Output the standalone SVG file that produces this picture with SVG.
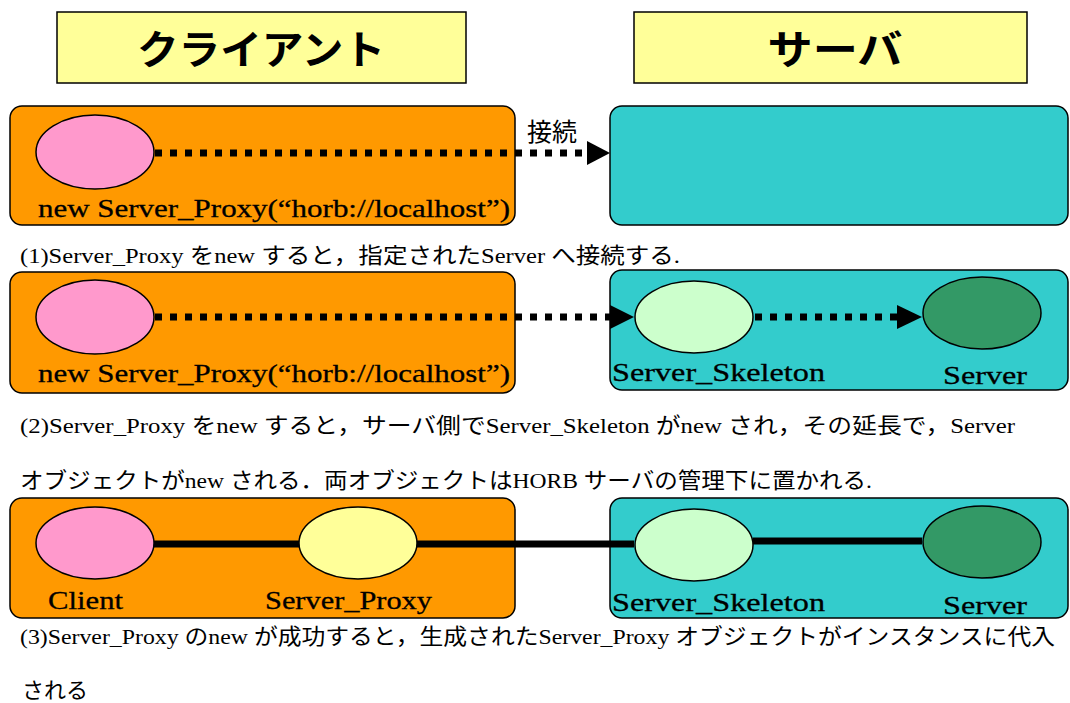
<svg xmlns="http://www.w3.org/2000/svg" width="1070" height="703" viewBox="0 0 1070 703">
<style>
.hdr{fill:#FFFF99;stroke:#000;stroke-width:1.5}
.hdrt{font-family:"Noto Sans CJK JP","Noto Sans",sans-serif;font-weight:bold;font-size:40px;text-anchor:middle}
.cli{fill:#FF9900;stroke:#000;stroke-width:1.5}
.srv{fill:#33CCCC;stroke:#000;stroke-width:1.5}
.pink{fill:#FF99CC;stroke:#000;stroke-width:1.5}
.yel{fill:#FFFF99;stroke:#000;stroke-width:1.5}
.lg{fill:#CCFFCC;stroke:#000;stroke-width:1.5}
.dg{fill:#339966;stroke:#000;stroke-width:1.5}
.lbl{font-family:"Liberation Serif","Times New Roman",serif;font-size:26px;fill:#000;stroke:#000;stroke-width:0.3}
.cap{font-family:"Liberation Serif","Noto Sans CJK JP",serif;font-size:22px;fill:#000}
.dot{stroke:#000;stroke-width:7;stroke-dasharray:7 8;fill:none}
.sol{stroke:#000;stroke-width:7;fill:none}
</style>
<g id="header-client"><rect class="hdr" x="57" y="12" width="409" height="71"/><text class="hdrt" x="261" y="64" textLength="248" lengthAdjust="spacingAndGlyphs">クライアント</text></g>
<g id="header-server"><rect class="hdr" x="634" y="12" width="393" height="71"/><text class="hdrt" x="835" y="64" textLength="135" lengthAdjust="spacingAndGlyphs">サーバ</text></g>

<!-- Row 1 -->
<g id="r1-client"><rect class="cli" x="10" y="106" width="505" height="119" rx="12"/></g>
<g id="r1-server"><rect class="srv" x="610" y="106" width="458" height="119" rx="12"/></g>
<g id="r1-client-obj"><ellipse class="pink" cx="95" cy="152" rx="59" ry="37"/></g>
<g id="r1-label"><text class="lbl" x="38" y="217" textLength="472" lengthAdjust="spacingAndGlyphs">new Server_Proxy(“horb://localhost”)</text></g>

<!-- Row 2 -->
<g id="r2-client"><rect class="cli" x="10" y="272" width="505" height="121" rx="12"/></g>
<g id="r2-server"><rect class="srv" x="610" y="270" width="458" height="120" rx="12"/></g>
<g id="r2-client-obj"><ellipse class="pink" cx="95" cy="317" rx="59" ry="37"/></g>
<g id="r2-skeleton"><ellipse class="lg" cx="694" cy="317" rx="59" ry="36"/><text class="lbl" x="612" y="381" textLength="213" lengthAdjust="spacingAndGlyphs">Server_Skeleton</text></g>
<g id="r2-serverobj"><ellipse class="dg" cx="982" cy="313" rx="59" ry="36"/><text class="lbl" x="943" y="384" textLength="84" lengthAdjust="spacingAndGlyphs">Server</text></g>
<g id="r2-label"><text class="lbl" x="38" y="382" textLength="472" lengthAdjust="spacingAndGlyphs">new Server_Proxy(“horb://localhost”)</text></g>

<!-- Row 3 -->
<g id="r3-client"><rect class="cli" x="10" y="498" width="505" height="120" rx="12"/></g>
<g id="r3-server"><rect class="srv" x="610" y="498" width="458" height="120" rx="12"/></g>

<g id="connectors">
<line class="dot" x1="155" y1="153" x2="590" y2="153"/>
<path d="M587,141 L610,153 L587,165 Z"/>
<line class="dot" x1="155" y1="317" x2="612" y2="317"/>
<path d="M610,305 L634,317 L610,329 Z"/>
<line class="dot" x1="755" y1="317" x2="898" y2="317"/>
<path d="M897,305 L922,317 L897,329 Z"/>
<line class="sol" x1="153" y1="544" x2="634" y2="544"/>
<line class="sol" x1="753" y1="541" x2="922" y2="541"/>
</g>

<g id="r3-client-obj"><ellipse class="pink" cx="95" cy="543" rx="59" ry="36"/><text class="lbl" x="48" y="609" textLength="75" lengthAdjust="spacingAndGlyphs">Client</text></g>
<g id="r3-proxy"><ellipse class="yel" cx="358" cy="543" rx="59" ry="36"/><text class="lbl" x="265" y="609" textLength="167" lengthAdjust="spacingAndGlyphs">Server_Proxy</text></g>
<g id="r3-skeleton"><ellipse class="lg" cx="694" cy="545" rx="59" ry="36"/><text class="lbl" x="612" y="611" textLength="213" lengthAdjust="spacingAndGlyphs">Server_Skeleton</text></g>
<g id="r3-serverobj"><ellipse class="dg" cx="982" cy="542" rx="59" ry="36"/><text class="lbl" x="943" y="614" textLength="84" lengthAdjust="spacingAndGlyphs">Server</text></g>

<g id="texts">
<text x="527" y="141" style="font-family:'Noto Sans CJK JP',sans-serif;font-size:25px">接続</text>
<text class="cap" x="20" y="263" textLength="660" lengthAdjust="spacingAndGlyphs">(1)Server_Proxy をnew すると，指定されたServer へ接続する.</text>
<text class="cap" x="20" y="433" textLength="995" lengthAdjust="spacingAndGlyphs">(2)Server_Proxy をnew すると，サーバ側でServer_Skeleton がnew され，その延長で，Server</text>
<text class="cap" x="20" y="488" textLength="852" lengthAdjust="spacingAndGlyphs">オブジェクトがnew される．両オブジェクトはHORB サーバの管理下に置かれる.</text>
<text class="cap" x="20" y="644" textLength="1035" lengthAdjust="spacingAndGlyphs">(3)Server_Proxy のnew が成功すると，生成されたServer_Proxy オブジェクトがインスタンスに代入</text>
<text class="cap" x="22" y="698" textLength="66" lengthAdjust="spacingAndGlyphs">される</text>
</g>
</svg>
